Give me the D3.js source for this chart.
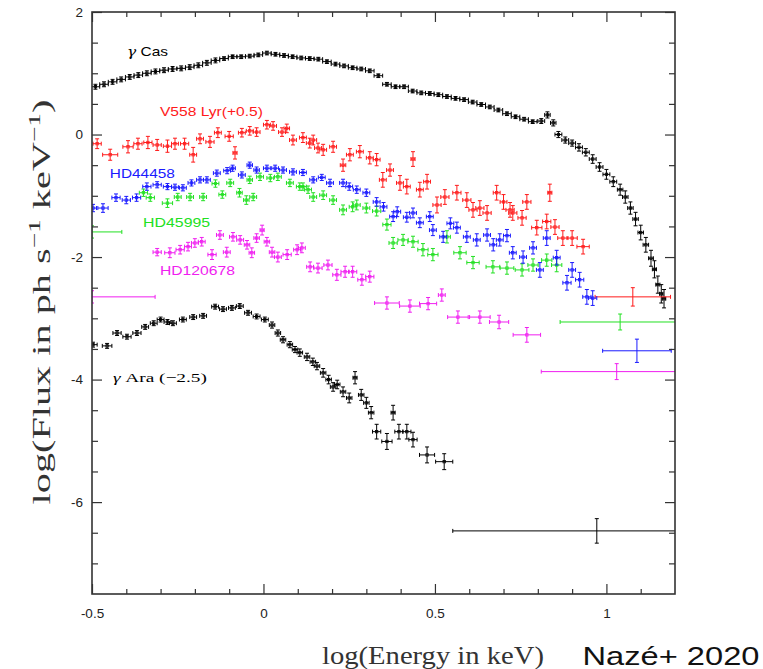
<!DOCTYPE html>
<html>
<head>
<meta charset="utf-8">
<script src="https://cdn.jsdelivr.net/npm/d3@7"></script>
<style>
  body { margin: 0; background: #fff; }
  svg { display: block; }
  .tick text { font-family: "Liberation Sans", Arial, sans-serif; font-size: 13.5px; fill: #222; }
</style>
</head>
<body>
<div id="chart"></div>
<script>
// rows are [logE, logFlux, xerr, yerr]
const gammaCas = [
  [-0.49,0.78,0.0125,0.04],[-0.465,0.82,0.0125,0.04],[-0.44,0.86,0.0125,0.04],[-0.415,0.90,0.0125,0.04],
  [-0.39,0.94,0.0125,0.04],[-0.365,0.97,0.0125,0.04],[-0.34,1.00,0.0125,0.04],[-0.315,1.03,0.0125,0.04],
  [-0.29,1.05,0.0125,0.04],[-0.265,1.07,0.0125,0.04],[-0.24,1.08,0.0125,0.04],[-0.215,1.10,0.0125,0.04],
  [-0.19,1.13,0.0125,0.04],[-0.165,1.17,0.0125,0.04],[-0.14,1.21,0.0125,0.04],[-0.115,1.24,0.0125,0.03],
  [-0.09,1.27,0.0125,0.03],[-0.065,1.27,0.0125,0.03],[-0.04,1.28,0.0125,0.03],[-0.015,1.30,0.0125,0.03],
  [0.01,1.33,0.0125,0.03],[0.035,1.31,0.0125,0.03],[0.06,1.29,0.0125,0.03],[0.085,1.27,0.0125,0.03],
  [0.11,1.25,0.0125,0.03],[0.135,1.24,0.0125,0.03],[0.16,1.23,0.0125,0.03],[0.185,1.19,0.0125,0.03],
  [0.21,1.15,0.0125,0.03],[0.235,1.12,0.0125,0.03],[0.26,1.09,0.0125,0.03],[0.285,1.07,0.0125,0.03],
  [0.31,1.04,0.0125,0.03],[0.335,0.96,0.0125,0.03],[0.36,0.82,0.0125,0.03],[0.385,0.78,0.0125,0.03],
  [0.41,0.78,0.0125,0.03],[0.435,0.71,0.0125,0.03],[0.46,0.68,0.0125,0.03],[0.485,0.67,0.0125,0.03],
  [0.51,0.65,0.0125,0.03],[0.535,0.62,0.0125,0.03],[0.56,0.59,0.0125,0.03],[0.585,0.57,0.0125,0.03],
  [0.61,0.53,0.0125,0.03],[0.635,0.49,0.0125,0.03],[0.66,0.45,0.0125,0.03],[0.685,0.40,0.0125,0.03],
  [0.71,0.34,0.0125,0.03],[0.735,0.29,0.0125,0.03],[0.76,0.25,0.0125,0.03],[0.785,0.21,0.0125,0.03],
  [0.81,0.22,0.01,0.04],[0.828,0.32,0.008,0.05],[0.845,0.19,0.008,0.05],[0.86,0.00,0.01,0.05],
  [0.88,-0.09,0.01,0.05],[0.90,-0.14,0.01,0.05],[0.92,-0.21,0.01,0.06],[0.94,-0.29,0.01,0.06],
  [0.96,-0.40,0.01,0.07],[0.98,-0.53,0.01,0.07],[1.00,-0.65,0.01,0.08],[1.02,-0.77,0.01,0.08],
  [1.04,-0.90,0.008,0.09],[1.055,-1.02,0.008,0.1],[1.07,-1.20,0.008,0.1],[1.085,-1.38,0.008,0.11],
  [1.10,-1.60,0.008,0.12],[1.115,-1.80,0.008,0.12],[1.13,-2.02,0.007,0.13],[1.14,-2.20,0.006,0.14],
  [1.15,-2.45,0.006,0.14],[1.16,-2.60,0.005,0.15],[1.168,-2.68,0.005,0.15]
];

const v558Lyr = [
  [-0.485,-0.15,0.012,0.08],[-0.447,-0.33,0.022,0.09],[-0.395,-0.20,0.015,0.1],[-0.366,-0.15,0.012,0.09],
  [-0.337,-0.13,0.012,0.1],[-0.31,-0.17,0.012,0.09],[-0.28,-0.19,0.012,0.1],[-0.258,-0.15,0.01,0.09],
  [-0.23,-0.15,0.012,0.09],[-0.205,-0.33,0.01,0.12],[-0.185,-0.07,0.01,0.08],[-0.156,-0.12,0.012,0.09],
  [-0.133,0.03,0.01,0.08],[-0.10,-0.03,0.012,0.08],[-0.083,-0.30,0.006,0.1],[-0.063,0.03,0.01,0.07],
  [-0.04,0.06,0.01,0.07],[-0.02,0.04,0.01,0.07],[0.01,0.16,0.01,0.07],[0.028,0.14,0.01,0.07],
  [0.054,0.04,0.01,0.07],[0.068,0.10,0.008,0.07],[0.086,-0.09,0.01,0.08],[0.115,-0.05,0.01,0.08],
  [0.135,-0.14,0.01,0.08],[0.145,-0.09,0.01,0.08],[0.159,-0.22,0.01,0.08],[0.174,-0.25,0.01,0.09],
  [0.203,-0.20,0.01,0.09],[0.232,-0.50,0.008,0.1],[0.252,-0.33,0.01,0.1],[0.281,-0.28,0.01,0.1],
  [0.31,-0.38,0.01,0.1],[0.33,-0.41,0.01,0.1],[0.348,-0.74,0.01,0.12],[0.369,-0.58,0.01,0.1],
  [0.398,-0.79,0.01,0.12],[0.418,-0.85,0.01,0.12],[0.436,-0.40,0.006,0.12],[0.456,-0.90,0.01,0.12],
  [0.477,-0.77,0.01,0.12],[0.506,-1.15,0.012,0.13],[0.529,-1.02,0.012,0.12],[0.564,-0.95,0.012,0.12],
  [0.593,-1.07,0.012,0.12],[0.611,-1.23,0.012,0.12],[0.631,-1.20,0.012,0.12],[0.652,-1.28,0.012,0.12],
  [0.68,-0.95,0.01,0.12],[0.70,-1.10,0.01,0.12],[0.719,-1.23,0.012,0.12],[0.727,-1.28,0.012,0.12],
  [0.754,-1.36,0.012,0.12],[0.768,-1.10,0.012,0.12],[0.797,-1.52,0.015,0.12],[0.826,-1.42,0.012,0.12],
  [0.835,-0.95,0.006,0.14],[0.85,-1.51,0.012,0.12],[0.873,-1.69,0.015,0.12],[0.90,-1.69,0.015,0.12],
  [0.932,-1.83,0.018,0.12],[1.077,-2.65,0.11,0.15]
];

const hd44458 = [
  [-0.497,-1.20,0.01,0.06],[-0.468,-1.20,0.015,0.07],[-0.43,-1.03,0.012,0.06],[-0.40,-1.07,0.012,0.06],
  [-0.37,-1.03,0.012,0.06],[-0.34,-0.85,0.012,0.06],[-0.31,-0.82,0.012,0.05],[-0.28,-0.85,0.012,0.05],
  [-0.258,-0.86,0.01,0.05],[-0.235,-0.87,0.01,0.05],[-0.21,-0.79,0.01,0.05],[-0.185,-0.74,0.01,0.05],
  [-0.165,-0.74,0.01,0.05],[-0.136,-0.63,0.01,0.05],[-0.106,-0.59,0.01,0.05],[-0.09,-0.55,0.008,0.05],
  [-0.063,-0.66,0.01,0.05],[-0.04,-0.50,0.008,0.05],[-0.02,-0.58,0.008,0.05],[0.01,-0.55,0.01,0.05],
  [0.034,-0.55,0.01,0.05],[0.057,-0.58,0.01,0.05],[0.086,-0.61,0.01,0.05],[0.115,-0.62,0.01,0.05],
  [0.145,-0.74,0.01,0.05],[0.17,-0.70,0.01,0.05],[0.194,-0.79,0.01,0.06],[0.232,-0.79,0.01,0.06],
  [0.25,-0.85,0.01,0.06],[0.272,-0.90,0.01,0.06],[0.30,-0.95,0.01,0.06],[0.33,-1.10,0.01,0.07],
  [0.35,-1.18,0.01,0.07],[0.378,-1.34,0.01,0.08],[0.39,-1.26,0.01,0.08],[0.418,-1.35,0.01,0.08],
  [0.436,-1.28,0.01,0.08],[0.456,-1.44,0.01,0.08],[0.485,-1.34,0.01,0.08],[0.494,-1.56,0.01,0.09],
  [0.524,-1.67,0.01,0.09],[0.545,-1.45,0.01,0.09],[0.564,-1.52,0.01,0.09],[0.593,-1.67,0.01,0.09],
  [0.622,-1.72,0.01,0.1],[0.652,-1.64,0.01,0.1],[0.67,-1.80,0.01,0.1],[0.689,-1.72,0.01,0.1],
  [0.71,-1.65,0.01,0.1],[0.727,-1.93,0.01,0.1],[0.757,-2.00,0.01,0.1],[0.786,-1.85,0.01,0.1],
  [0.806,-2.21,0.01,0.12],[0.826,-1.69,0.01,0.12],[0.855,-2.01,0.01,0.12],[0.885,-2.42,0.012,0.12],
  [0.90,-2.21,0.01,0.12],[0.922,-2.37,0.012,0.12],[0.943,-2.65,0.012,0.12],[0.96,-2.67,0.012,0.12],
  [1.089,-3.53,0.1,0.19]
];

const hd45995 = [
  [-0.5,-1.59,0.087,0.1],[-0.35,-0.95,0.012,0.06],[-0.33,-1.03,0.012,0.06],[-0.28,-1.12,0.015,0.07],
  [-0.25,-1.02,0.01,0.06],[-0.214,-1.02,0.01,0.06],[-0.176,-1.02,0.01,0.06],[-0.14,-0.80,0.01,0.06],
  [-0.12,-0.98,0.01,0.06],[-0.097,-0.79,0.01,0.06],[-0.07,-0.95,0.008,0.07],[-0.05,-1.07,0.008,0.07],
  [-0.04,-0.74,0.008,0.06],[-0.03,-1.02,0.01,0.06],[-0.01,-0.69,0.01,0.06],[0.02,-0.71,0.01,0.06],
  [0.042,-0.69,0.01,0.06],[0.077,-0.79,0.01,0.06],[0.106,-0.85,0.01,0.06],[0.115,-0.85,0.01,0.06],
  [0.13,-0.90,0.01,0.06],[0.145,-1.02,0.01,0.07],[0.174,-0.99,0.01,0.07],[0.203,-1.07,0.01,0.07],
  [0.232,-1.23,0.01,0.08],[0.26,-1.18,0.01,0.08],[0.272,-1.15,0.01,0.08],[0.30,-1.20,0.01,0.08],
  [0.33,-1.25,0.012,0.08],[0.36,-1.47,0.012,0.09],[0.378,-1.77,0.012,0.09],[0.407,-1.72,0.015,0.09],
  [0.436,-1.75,0.015,0.09],[0.465,-1.88,0.015,0.1],[0.494,-1.96,0.015,0.1],[0.535,-1.67,0.01,0.1],
  [0.573,-1.93,0.018,0.1],[0.611,-2.09,0.018,0.1],[0.669,-2.16,0.02,0.1],[0.71,-2.18,0.02,0.1],
  [0.754,-2.21,0.02,0.1],[0.786,-2.13,0.015,0.1],[0.826,-2.05,0.015,0.1],[0.855,-2.13,0.015,0.11],
  [1.04,-3.06,0.175,0.13]
];

const hd120678 = [
  [-0.5,-2.65,0.184,0.1],[-0.31,-1.92,0.012,0.06],[-0.273,-1.93,0.015,0.08],[-0.243,-1.88,0.012,0.07],
  [-0.22,-1.83,0.01,0.07],[-0.20,-1.77,0.01,0.07],[-0.18,-1.75,0.01,0.07],[-0.15,-1.96,0.012,0.08],
  [-0.127,-1.64,0.01,0.07],[-0.107,-1.92,0.01,0.08],[-0.089,-1.67,0.01,0.07],[-0.068,-1.72,0.01,0.07],
  [-0.048,-1.80,0.008,0.07],[-0.034,-1.93,0.008,0.08],[-0.02,-1.69,0.008,0.07],[-0.004,-1.56,0.006,0.08],
  [0.01,-1.75,0.008,0.07],[0.025,-1.92,0.008,0.08],[0.042,-2.00,0.01,0.08],[0.069,-1.96,0.012,0.08],
  [0.098,-1.88,0.01,0.08],[0.112,-1.85,0.01,0.08],[0.136,-2.16,0.01,0.08],[0.159,-2.18,0.012,0.08],
  [0.188,-2.13,0.012,0.08],[0.214,-2.29,0.012,0.09],[0.238,-2.24,0.012,0.09],[0.26,-2.24,0.012,0.09],
  [0.287,-2.37,0.012,0.09],[0.31,-2.32,0.012,0.09],[0.36,-2.75,0.036,0.1],[0.427,-2.80,0.03,0.1],
  [0.48,-2.76,0.025,0.1],[0.52,-2.62,0.01,0.1],[0.567,-2.98,0.03,0.1],[0.631,-2.98,0.03,0.1],
  [0.687,-3.06,0.028,0.11],[0.768,-3.27,0.04,0.12],[1.03,-3.87,0.22,0.13]
];

const gammaAra = [
  [-0.497,-3.43,0.012,0.04],[-0.456,-3.45,0.014,0.04],[-0.427,-3.24,0.012,0.04],[-0.398,-3.30,0.012,0.04],
  [-0.369,-3.24,0.012,0.04],[-0.345,-3.14,0.01,0.04],[-0.32,-3.08,0.01,0.04],[-0.30,-3.02,0.01,0.04],
  [-0.28,-3.06,0.01,0.04],[-0.264,-3.08,0.01,0.04],[-0.235,-3.02,0.01,0.04],[-0.205,-2.98,0.01,0.04],
  [-0.176,-2.96,0.01,0.04],[-0.141,-2.81,0.01,0.04],[-0.118,-2.85,0.01,0.04],[-0.092,-2.83,0.01,0.04],
  [-0.069,-2.80,0.01,0.04],[-0.045,-2.91,0.01,0.04],[-0.02,-2.97,0.01,0.04],[0.004,-3.02,0.01,0.04],
  [0.025,-3.11,0.008,0.05],[0.042,-3.24,0.008,0.05],[0.057,-3.35,0.008,0.05],[0.077,-3.43,0.008,0.05],
  [0.092,-3.51,0.008,0.05],[0.106,-3.56,0.008,0.06],[0.127,-3.63,0.008,0.06],[0.144,-3.71,0.008,0.06],
  [0.156,-3.78,0.008,0.06],[0.174,-3.89,0.008,0.07],[0.19,-4.00,0.008,0.07],[0.203,-4.12,0.008,0.07],
  [0.215,-4.08,0.008,0.07],[0.232,-4.20,0.008,0.08],[0.25,-4.30,0.008,0.08],[0.267,-3.97,0.006,0.1],
  [0.285,-4.25,0.008,0.09],[0.30,-4.38,0.008,0.09],[0.314,-4.54,0.008,0.1],[0.33,-4.85,0.012,0.12],
  [0.36,-5.01,0.015,0.13],[0.378,-4.54,0.006,0.12],[0.395,-4.85,0.012,0.12],[0.418,-4.85,0.012,0.12],
  [0.436,-4.98,0.012,0.12],[0.477,-5.23,0.022,0.13],[0.527,-5.34,0.025,0.13],[0.972,-6.47,0.42,0.2]
];

const series = [
  { name: 'gammaCas', rows: gammaCas, color: '#000000' },
  { name: 'v558Lyr', rows: v558Lyr, color: '#ff1a1a' },
  { name: 'hd45995', rows: hd45995, color: '#22e022' },
  { name: 'hd44458', rows: hd44458, color: '#1a1aff' },
  { name: 'hd120678', rows: hd120678, color: '#f01ef0' },
  { name: 'gammaAra', rows: gammaAra, color: '#000000' }
];

const xMajor = [-0.5, 0, 0.5, 1];
const xMinor = [-0.4, -0.3, -0.2, -0.1, 0.1, 0.2, 0.3, 0.4, 0.6, 0.7, 0.8, 0.9, 1.1];
const yMajor = [2, 0, -2, -4, -6];
const yMinor = [1.5, 1, 0.5, -0.5, -1, -1.5, -2.5, -3, -3.5, -4.5, -5, -5.5, -6.5, -7];

const w = 763, h = 669;
const plot = { left: 92, right: 675, top: 12, bottom: 594 };

const svg = d3.select('#chart')
  .append('svg')
  .attr('width', w)
  .attr('height', h);

const xScale = d3.scaleLinear().domain([-0.5, 1.2]).range([plot.left, plot.right]);
const yScale = d3.scaleLinear().domain([-7.5, 2]).range([plot.bottom, plot.top]);

svg.append('clipPath').attr('id', 'clip')
  .append('rect')
  .attr('x', plot.left).attr('y', plot.top)
  .attr('width', plot.right - plot.left).attr('height', plot.bottom - plot.top);

const marks = svg.append('g').attr('clip-path', 'url(#clip)');

// Draw each point as a cross of error bars with small caps
const drawSeries = (s) => {
  const pts = marks.append('g')
    .attr('class', s.name)
    .attr('stroke', s.color)
    .attr('stroke-width', 1)
    .attr('fill', 'none')
    .selectAll('g')
    .data(s.rows)
    .join('g');

  pts.append('line')
    .attr('x1', d => xScale(d[0] - d[2])).attr('x2', d => xScale(d[0] + d[2]))
    .attr('y1', d => yScale(d[1])).attr('y2', d => yScale(d[1]));
  pts.append('line')
    .attr('x1', d => xScale(d[0])).attr('x2', d => xScale(d[0]))
    .attr('y1', d => yScale(d[1] + d[3])).attr('y2', d => yScale(d[1] - d[3]));
  // caps on both bars
  [1, -1].forEach(sign => {
    pts.append('line')
      .attr('x1', d => xScale(d[0]) - 2).attr('x2', d => xScale(d[0]) + 2)
      .attr('y1', d => yScale(d[1] + sign * d[3])).attr('y2', d => yScale(d[1] + sign * d[3]));
    pts.append('line')
      .attr('x1', d => xScale(d[0] + sign * d[2])).attr('x2', d => xScale(d[0] + sign * d[2]))
      .attr('y1', d => yScale(d[1]) - 2).attr('y2', d => yScale(d[1]) + 2);
  });
  // tiny square marker on narrow bins
  pts.filter(d => d[2] < 0.05)
    .append('rect')
    .attr('x', d => xScale(d[0]) - 1.2).attr('y', d => yScale(d[1]) - 1.2)
    .attr('width', 2.4).attr('height', 2.4)
    .attr('stroke-width', 0.8);
};
series.forEach(drawSeries);

// Axes with inward ticks on all four sides
const fmt = d => String(d);
const axisStyle = g => {
  g.select('.domain').remove();
  g.selectAll('.tick line').attr('stroke', '#333').attr('stroke-width', 1.2);
};

svg.append('g').attr('transform', `translate(0,${plot.bottom})`)
  .call(d3.axisBottom(xScale).tickValues(xMajor).tickSize(-10).tickPadding(14).tickFormat(fmt))
  .call(axisStyle);
svg.append('g').attr('transform', `translate(0,${plot.bottom})`)
  .call(d3.axisBottom(xScale).tickValues(xMinor).tickSize(-5).tickFormat(''))
  .call(axisStyle);
svg.append('g').attr('transform', `translate(0,${plot.top})`)
  .call(d3.axisTop(xScale).tickValues(xMajor).tickSize(-10).tickFormat(''))
  .call(axisStyle);
svg.append('g').attr('transform', `translate(0,${plot.top})`)
  .call(d3.axisTop(xScale).tickValues(xMinor).tickSize(-5).tickFormat(''))
  .call(axisStyle);

svg.append('g').attr('transform', `translate(${plot.left},0)`)
  .call(d3.axisLeft(yScale).tickValues(yMajor).tickSize(-10).tickPadding(9).tickFormat(fmt))
  .call(axisStyle);
svg.append('g').attr('transform', `translate(${plot.left},0)`)
  .call(d3.axisLeft(yScale).tickValues(yMinor).tickSize(-6).tickFormat(''))
  .call(axisStyle);
svg.append('g').attr('transform', `translate(${plot.right},0)`)
  .call(d3.axisRight(yScale).tickValues(yMajor).tickSize(-10).tickFormat(''))
  .call(axisStyle);
svg.append('g').attr('transform', `translate(${plot.right},0)`)
  .call(d3.axisRight(yScale).tickValues(yMinor).tickSize(-6).tickFormat(''))
  .call(axisStyle);

svg.append('rect')
  .attr('x', plot.left).attr('y', plot.top)
  .attr('width', plot.right - plot.left).attr('height', plot.bottom - plot.top)
  .attr('fill', 'none').attr('stroke', '#333').attr('stroke-width', 1.6);

// Series labels
const labels = [
  { text: 'V558 Lyr(+0.5)', x: -0.302, y: 0.30, color: '#ff1a1a', len: 103 },
  { text: 'HD44458', x: -0.448, y: -0.71, color: '#1a1aff', len: 65 },
  { text: 'HD45995', x: -0.351, y: -1.51, color: '#22e022', len: 67 },
  { text: 'HD120678', x: -0.302, y: -2.29, color: '#f01ef0', len: 75 }
];
labels.forEach(l => {
  svg.append('text')
    .attr('x', xScale(l.x)).attr('y', yScale(l.y))
    .attr('fill', l.color)
    .attr('textLength', l.len).attr('lengthAdjust', 'spacingAndGlyphs')
    .style('font-family', '"Liberation Sans", Arial, sans-serif')
    .style('font-size', '13px')
    .text(l.text);
});

const casLabel = svg.append('text')
  .attr('x', xScale(-0.398)).attr('y', yScale(1.28))
  .style('font-size', '13px');
casLabel.append('tspan').style('font-family', '"DejaVu Serif", serif').style('font-style', 'italic').text('γ');
casLabel.append('tspan').style('font-family', '"Liberation Sans", Arial, sans-serif').text(' Cas');
casLabel.attr('textLength', 41).attr('lengthAdjust', 'spacingAndGlyphs');

const araLabel = svg.append('text')
  .attr('x', xScale(-0.439)).attr('y', yScale(-4.04))
  .style('font-size', '13px')
  .style('font-family', '"Liberation Serif", serif');
araLabel.append('tspan').style('font-style', 'italic').text('γ');
araLabel.append('tspan').text(' Ara (−2.5)');
araLabel.attr('textLength', 94).attr('lengthAdjust', 'spacingAndGlyphs');

// Axis titles
svg.append('text')
  .attr('x', 433).attr('y', 664)
  .attr('text-anchor', 'middle')
  .attr('textLength', 222).attr('lengthAdjust', 'spacingAndGlyphs')
  .style('font-family', '"Liberation Serif", serif')
  .style('font-size', '26px')
  .style('fill', '#333')
  .text('log(Energy in keV)');

const yTitle = svg.append('text')
  .attr('text-anchor', 'middle')
  .style('font-family', '"Liberation Serif", serif')
  .style('font-size', '25px')
  .style('fill', '#333');
yTitle.append('tspan').text('log(Flux in ph s');
yTitle.append('tspan').attr('dy', -10).style('font-size', '17px').text('−1');
yTitle.append('tspan').attr('dy', 10).text(' keV');
yTitle.append('tspan').attr('dy', -10).style('font-size', '17px').text('−1');
yTitle.append('tspan').attr('dy', 10).text(')');
const yLen = yTitle.node().getComputedTextLength();
yTitle.attr('transform', `translate(50,302) rotate(-90) scale(${405 / yLen},1)`);

svg.append('text')
  .attr('x', 671).attr('y', 665)
  .attr('text-anchor', 'middle')
  .attr('textLength', 177).attr('lengthAdjust', 'spacingAndGlyphs')
  .style('font-family', '"Liberation Sans", Arial, sans-serif')
  .style('font-size', '25px')
  .style('fill', '#111')
  .text('Nazé+ 2020');
</script>
</body>
</html>
